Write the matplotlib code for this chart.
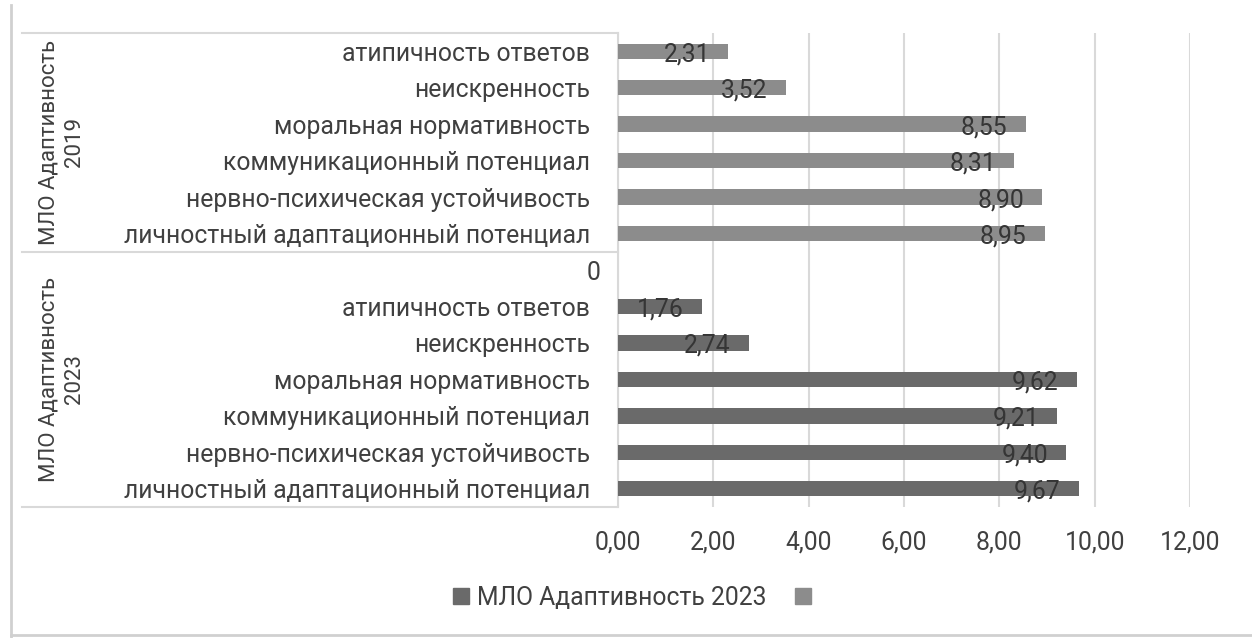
import numpy as np
import matplotlib.pyplot as plt
import matplotlib.transforms as mtransforms
from matplotlib.lines import Line2D

plt.rcParams['font.family'] = ['Roboto', 'DejaVu Sans']

# категории сверху вниз
categories = ["атипичность ответов", "неискренность", "моральная нормативность",
              "коммуникационный потенциал", "нервно-психическая устойчивость",
              "личностный адаптационный потенциал"]
vals_2019 = [2.31, 3.52, 8.55, 8.31, 8.90, 8.95]
vals_2023 = [1.76, 2.74, 9.62, 9.21, 9.40, 9.67]
groups = ["МЛО Адаптивность\n2019", "МЛО Адаптивность\n2023"]
legend_labels = ["МЛО Адаптивность 2023", ""]
xticks = [0, 2, 4, 6, 8, 10, 12]

c19 = "#8c8c8c"
c23 = "#6a6a6a"
txt = "#404040"
grid = "#d9d9d9"
fs = 17.8

W, H = 1252, 638
fig = plt.figure(figsize=(W / 100, H / 100), dpi=100)
ax = fig.add_axes([618 / W, 1 - 507 / H, 572 / W, 474 / H])

n = len(categories)
# строки: 2019 (0..5), пустая "0" (6), 2023 (7..12)
rows_19 = np.arange(n)
rows_23 = np.arange(n) + n + 1
total = 2 * n + 1
y19 = total - 1 - rows_19
y23 = total - 1 - rows_23

ax.barh(y19, vals_2019, height=0.42, color=c19, zorder=3)
ax.barh(y23, vals_2023, height=0.42, color=c23, zorder=3)

for y, v in list(zip(y19, vals_2019)) + list(zip(y23, vals_2023)):
    ax.annotate(f"{v:.2f}".replace(".", ","), (v, y), xytext=(-18, -3),
                textcoords="offset pixels", ha="right", va="center",
                fontsize=fs, color="#353535", zorder=4)

ytick_pos = list(y19) + [total - 1 - n] + list(y23)
ytick_lab = categories + ["0"] + categories
ax.set_yticks(ytick_pos)
ax.set_yticklabels(ytick_lab, fontsize=fs, color=txt)
ax.set_ylim(-0.5, total - 0.5)
ax.set_xlim(0, 12)
ax.set_xticks(xticks)
ax.set_xticklabels([f"{t:.2f}".replace(".", ",") for t in xticks], fontsize=fs, color=txt)
ax.tick_params(axis="y", length=0, pad=20)
ax.tick_params(axis="x", length=0, pad=17)
ax.grid(axis="x", color=grid, linewidth=1.5, zorder=0)
for s in ["top", "right", "bottom"]:
    ax.spines[s].set_visible(False)
ax.spines["left"].set_color(grid)
ax.spines["left"].set_linewidth(1.5)

# "0" чуть правее остальных подписей
lab0 = ax.get_yticklabels()[n]
lab0.set_transform(lab0.get_transform() +
                   mtransforms.ScaledTranslation(10 / 100, 0, fig.dpi_scale_trans))

# линии групп слева
x0 = (22 - 618) / 572
tr = ax.get_yaxis_transform()
for yb in [total - 0.5, total - 0.5 - n, -0.5]:
    ax.plot([x0, 0], [yb, yb], transform=tr, color=grid, lw=1.5, clip_on=False)
xg = (62 - 618) / 572
ax.text(xg, total - 0.5 - n / 2, groups[0], transform=tr, rotation=90,
        ha="center", va="center", ma="center", fontsize=16, color=txt, linespacing=1.25)
ax.text(xg, (total - 1 - n) / 2, groups[1], transform=tr, rotation=90,
        ha="center", va="center", ma="center", fontsize=16, color=txt, linespacing=1.25)

# рамка
fig.add_artist(Line2D([11 / W, 11 / W], [0, 1 - 5 / H], color="#d0d0d0", lw=2))
fig.add_artist(Line2D([11 / W, 1], [1 - 635 / H, 1 - 635 / H], color="#d0d0d0", lw=2))

handles = [Line2D([], [], marker="s", ls="", color=c23, markersize=11),
           Line2D([], [], marker="s", ls="", color=c19, markersize=11)]
fig.legend(handles, legend_labels, loc="center", bbox_to_anchor=(634 / W, 1 - 598 / H),
           ncol=2, frameon=False, fontsize=fs, handlelength=1.0, handletextpad=0.15,
           columnspacing=1.0, labelcolor=txt)

fig.savefig("out.png", dpi=100)
